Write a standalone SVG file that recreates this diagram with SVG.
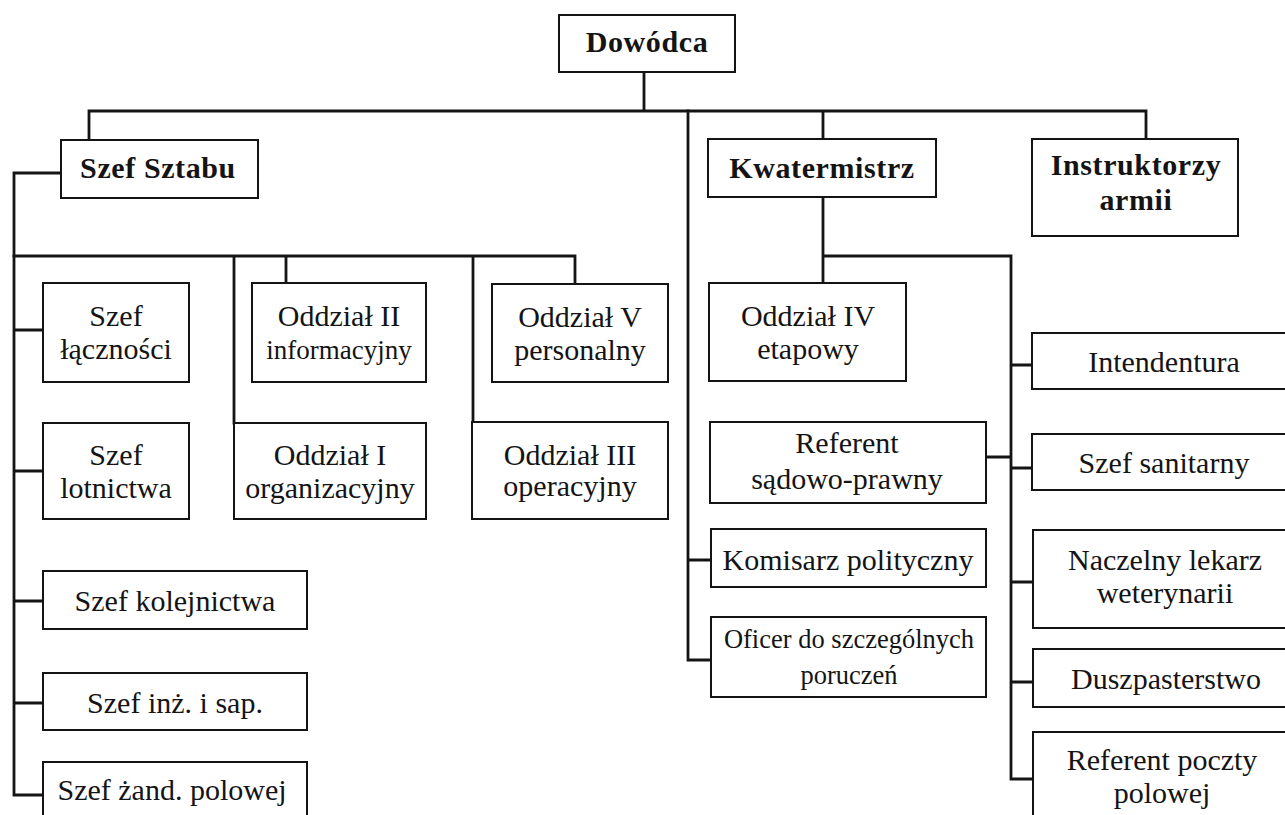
<svg xmlns="http://www.w3.org/2000/svg" width="1285" height="815" viewBox="0 0 1285 815">
<style>
.box{fill:#fff;stroke:#141414;stroke-width:2}
.t{font-family:"Liberation Serif","Times New Roman",serif;font-size:30px;fill:#141414;text-anchor:middle}
.b{font-weight:bold;letter-spacing:0.6px}
.c{fill:none;stroke:#141414;stroke-width:2.8;stroke-linecap:square}
</style>
<rect width="1285" height="815" fill="#fff"/>
<g id="connectors">
<path class="c" d="M644,72V111M89,111H1146M89,111V140M823,111V139M1146,111V139"/>
<path class="c" d="M688,111V660H711M688,560H711"/>
<path class="c" d="M61,173H14V795H43M14,330H43M14,471H43M14,601H43M14,703H43"/>
<path class="c" d="M14,256H575V284M286,256V283M234,256V423M473,256V422"/>
<path class="c" d="M823,197V283M823,256H1011V779H1033M1011,365H1032M1011,468H1032M1011,582H1033M1011,682H1033M986,457H1011"/>
</g>
<g id="dowodca"><rect class="box" x="559" y="15" width="176" height="57"/><text class="t b" x="647" y="52">Dowódca</text></g>
<g id="szef-sztabu"><rect class="box" x="61" y="140" width="197" height="58"/><text class="t b" x="158" y="178">Szef Sztabu</text></g>
<g id="kwatermistrz"><rect class="box" x="708" y="139" width="228" height="58"/><text class="t b" x="822" y="178">Kwatermistrz</text></g>
<g id="instruktorzy"><rect class="box" x="1032" y="139" width="206" height="97"/><text class="t b" x="1136" y="175">Instruktorzy</text><text class="t b" x="1136" y="210">armii</text></g>
<g id="szef-lacznosci"><rect class="box" x="43" y="283" width="146" height="99"/><text class="t" x="116" y="326">Szef</text><text class="t" x="116" y="359">łączności</text></g>
<g id="szef-lotnictwa"><rect class="box" x="43" y="423" width="146" height="96"/><text class="t" x="116" y="465">Szef</text><text class="t" x="116" y="498">lotnictwa</text></g>
<g id="szef-kolejnictwa"><rect class="box" x="43" y="571" width="264" height="58"/><text class="t" x="175" y="611">Szef kolejnictwa</text></g>
<g id="szef-inz"><rect class="box" x="43" y="673" width="264" height="57"/><text class="t" x="175" y="713">Szef inż. i sap.</text></g>
<g id="szef-zand"><rect class="box" x="43" y="762" width="264" height="62"/><text class="t" x="172" y="800">Szef żand. polowej</text></g>
<g id="oddzial-2"><rect class="box" x="252" y="283" width="174" height="99"/><text class="t" x="339" y="326">Oddział II</text><text class="t" x="339" y="359" style="font-size:27px">informacyjny</text></g>
<g id="oddzial-1"><rect class="box" x="234" y="423" width="192" height="96"/><text class="t" x="330" y="465">Oddział I</text><text class="t" x="330" y="498">organizacyjny</text></g>
<g id="oddzial-5"><rect class="box" x="492" y="284" width="176" height="98"/><text class="t" x="580" y="327">Oddział V</text><text class="t" x="580" y="360">personalny</text></g>
<g id="oddzial-3"><rect class="box" x="472" y="422" width="196" height="97"/><text class="t" x="570" y="465">Oddział III</text><text class="t" x="570" y="496">operacyjny</text></g>
<g id="oddzial-4"><rect class="box" x="709" y="283" width="197" height="98"/><text class="t" x="808" y="326">Oddział IV</text><text class="t" x="808" y="359">etapowy</text></g>
<g id="referent-sadowo"><rect class="box" x="710" y="422" width="276" height="81"/><text class="t" x="847" y="453">Referent</text><text class="t" x="847" y="489">sądowo-prawny</text></g>
<g id="komisarz"><rect class="box" x="711" y="529" width="275" height="58"/><text class="t" x="848" y="570">Komisarz polityczny</text></g>
<g id="oficer"><rect class="box" x="711" y="617" width="275" height="80"/><text class="t" x="849" y="648" style="font-size:26.5px">Oficer do szczególnych</text><text class="t" x="849" y="684" style="font-size:26.5px">poruczeń</text></g>
<g id="intendentura"><rect class="box" x="1032" y="333" width="265" height="56"/><text class="t" x="1164" y="372">Intendentura</text></g>
<g id="szef-sanitarny"><rect class="box" x="1032" y="434" width="265" height="56"/><text class="t" x="1164" y="473">Szef sanitarny</text></g>
<g id="naczelny-lekarz"><rect class="box" x="1033" y="530" width="264" height="98"/><text class="t" x="1165" y="570">Naczelny lekarz</text><text class="t" x="1165" y="603">weterynarii</text></g>
<g id="duszpasterstwo"><rect class="box" x="1033" y="649" width="264" height="58"/><text class="t" x="1166" y="689">Duszpasterstwo</text></g>
<g id="referent-poczty"><rect class="box" x="1033" y="732" width="264" height="90"/><text class="t" x="1162" y="770">Referent poczty</text><text class="t" x="1162" y="803">polowej</text></g>
</svg>
